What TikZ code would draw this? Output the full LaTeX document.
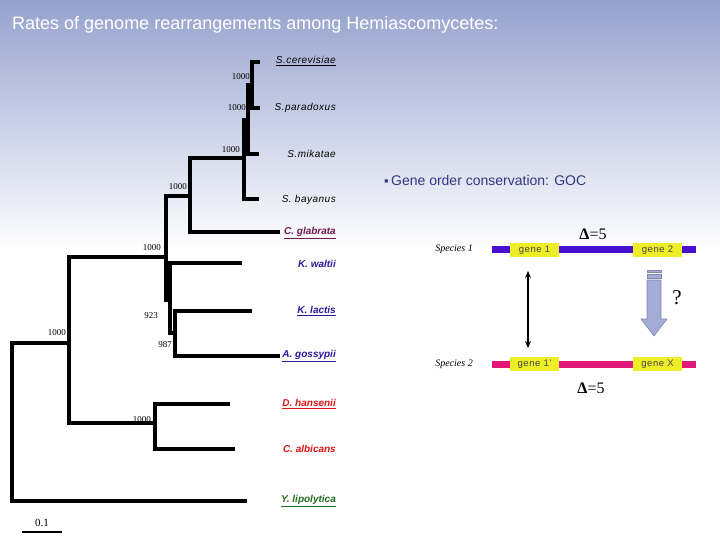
\documentclass[tikz,border=0pt]{standalone}
\usepackage{fontspec}
\setmainfont{Liberation Sans}
\newfontfamily\numfont{Liberation Serif}
\newfontfamily\leaffont[LetterSpace=5]{Liberation Sans}
\newfontfamily\genefont[LetterSpace=6]{Liberation Sans}
\usetikzlibrary{arrows.meta}
\definecolor{bgtop}{HTML}{96A2CE}
\definecolor{glabcol}{HTML}{6E1A52}
\definecolor{kluycol}{HTML}{2A1A9A}
\definecolor{candcol}{HTML}{E01414}
\definecolor{yarcol}{HTML}{1E6E1E}
\definecolor{goccol}{HTML}{2E3880}
\definecolor{sponecol}{HTML}{4A10D0}
\definecolor{sptwocol}{HTML}{E0187A}
\definecolor{genecol}{HTML}{EEEE28}
\definecolor{genetext}{HTML}{454545}
\definecolor{arrowfill}{HTML}{A3ACD6}
\definecolor{arrowline}{HTML}{8088AA}
\tikzset{
  treeline/.style={line width=4pt, line join=miter},
  boot/.style={anchor=east, inner sep=0pt, font=\numfont\fontsize{9}{10}\selectfont},
  leafsacch/.style={anchor=east, inner sep=0pt, font=\leaffont\itshape\fontsize{10}{12}\selectfont},
  leafbold/.style={anchor=east, inner sep=0pt, font=\bfseries\itshape\fontsize{10}{12}\selectfont},
  genebox/.style={fill=genecol, minimum width=49pt, minimum height=14pt, inner sep=0pt, text height=7pt, text depth=2pt, text=genetext, font=\genefont\fontsize{9.5}{10}\selectfont},
  speclabel/.style={anchor=east, inner sep=0pt, font=\numfont\itshape\fontsize{10}{12}\selectfont},
  deltalabel/.style={inner sep=0pt, font=\numfont\fontsize{16}{18}\selectfont},
}
\begin{document}
\begin{tikzpicture}[x=1pt,y=-1pt]
\useasboundingbox (0,0) rectangle (720,540);
\shade[top color=bgtop, bottom color=white] (0,0) rectangle (720,250);
\fill[white] (0,249.5) rectangle (720,540);

\node[anchor=west, inner sep=0pt, text=white, font=\fontsize{18}{20}\selectfont] (title) at (12,25) {Rates of genome rearrangements among Hemiascomycetes:};

% tree coordinates
\coordinate (cer) at (260,62);
\coordinate (par) at (260,108);
\coordinate (mik) at (259,154);
\coordinate (bay) at (259,199);
\coordinate (glab) at (280,232);
\coordinate (walt) at (242,263);
\coordinate (lac) at (252,311);
\coordinate (goss) at (280,356);
\coordinate (dh) at (230,404);
\coordinate (ca) at (235,449);
\coordinate (yl) at (247,501);
\coordinate (nA) at (252,85);
\coordinate (nB) at (248,120);
\coordinate (nC) at (244,158);
\coordinate (nD) at (190,196);
\coordinate (nE) at (175,333);
\coordinate (nF) at (170,300);
\coordinate (nG) at (166,257);
\coordinate (nH) at (155,423);
\coordinate (nI) at (69,343);
\coordinate (nR) at (12,422);

\draw[treeline] (nA) |- (cer);
\draw[treeline] (nA) |- (par);
\draw[treeline] (nB) |- (nA);
\draw[treeline] (nB) |- (mik);
\draw[treeline] (nC) |- (nB);
\draw[treeline] (nC) |- (bay);
\draw[treeline] (nD) |- (nC);
\draw[treeline] (nD) |- (glab);
\draw[treeline] (nE) |- (lac);
\draw[treeline] (nE) |- (goss);
\draw[treeline] (nF) |- (walt);
\draw[treeline] (nF) |- (nE);
\draw[treeline] (nG) |- (nD);
\draw[treeline] (nG) |- (nF);
\draw[treeline] (nH) |- (dh);
\draw[treeline] (nH) |- (ca);
\draw[treeline] (nI) |- (nG);
\draw[treeline] (nI) |- (nH);
\draw[treeline] (nR) |- (nI);
\draw[treeline] (nR) |- (yl);

% bootstrap values
\node[boot] (bA) at (250,77) {1000};
\node[boot] (bB) at (246,108) {1000};
\node[boot] (bC) at (240,150) {1000};
\node[boot] (bD) at (187,187) {1000};
\node[boot] (bG) at (161,248) {1000};
\node[boot] (bF) at (158,316) {923};
\node[boot] (bE) at (172,345) {987};
\node[boot] (bI) at (66,333) {1000};
\node[boot] (bH) at (151,420) {1000};

% leaf labels
\node[leafsacch] (lcer) at (336,61) {\underline{S.cerevisiae}};
\node[leafsacch] (lpar) at (336,108) {S.paradoxus};
\node[leafsacch] (lmik) at (336,154) {S.mikatae};
\node[leafsacch] (lbay) at (336,200) {S. bayanus};
\node[leafbold, text=glabcol] (lglab) at (336,233) {\underline{C. glabrata}};
\node[leafbold, text=kluycol] (lwalt) at (336,264) {K. waltii};
\node[leafbold, text=kluycol] (llac) at (336,311) {\underline{K. lactis}};
\node[leafbold, text=kluycol] (lgoss) at (336,356) {\underline{A. gossypii}};
\node[leafbold, text=candcol] (ldh) at (336,404) {\underline{D. hansenii}};
\node[leafbold, text=candcol] (lca) at (336,449) {C. albicans};
\node[leafbold, text=yarcol] (lyl) at (336,501) {\underline{Y. lipolytica}};

% scale bar
\coordinate (sbl) at (22,532);
\coordinate (sbr) at (62,532);
\draw[line width=2pt] (sbl) -- (sbr);
\node[inner sep=0pt, font=\numfont\fontsize{11}{12}\selectfont] (sbt) at (42,523) {0.1};

% right panel
\node[anchor=west, inner sep=0pt, text=goccol, font=\fontsize{14}{16}\selectfont] (goc) at (384,180) {{\fontsize{13}{14}\selectfont ▪}\,Gene order conservation: GOC};

\coordinate (s1a) at (492,249.5);
\coordinate (s1b) at (696,249.5);
\draw[line width=7pt, sponecol] (s1a) -- (s1b);
\node[genebox] (g1) at (534.5,249.5) {gene 1};
\node[genebox] (g2) at (657.5,249.5) {gene 2};
\node[speclabel] (sp1) at (473,249) {Species 1};
\node[deltalabel] (d1) at (593,234) {\textbf{Δ}=5};

\coordinate (s2a) at (492,364);
\coordinate (s2b) at (696,364);
\draw[line width=7pt, sptwocol] (s2a) -- (s2b);
\node[genebox] (g1p) at (534.5,364) {gene 1'};
\node[genebox] (gx) at (657.5,364) {gene X};
\node[speclabel] (sp2) at (473,364) {Species 2};
\node[deltalabel] (d2) at (591,388) {\textbf{Δ}=5};

\coordinate (da1) at (528,271);
\coordinate (da2) at (528,348);
\draw[line width=1.5pt, {Stealth[length=7pt,width=6pt]}-{Stealth[length=7pt,width=6pt]}] (da1) -- (da2);

\filldraw[fill=arrowfill, draw=arrowline, line width=0.6pt] (647,280) -- (661,280) -- (661,319) -- (667,319) -- (654,336) -- (641,319) -- (647,319) -- cycle;
\filldraw[fill=arrowfill, draw=arrowline, line width=0.6pt] (647,270) rectangle (661,272.5);
\filldraw[fill=arrowfill, draw=arrowline, line width=0.6pt] (647,274.5) rectangle (661,278);
\node[inner sep=0pt, font=\numfont\fontsize{21}{24}\selectfont] (q) at (677,298) {?};
\end{tikzpicture}
\end{document}
